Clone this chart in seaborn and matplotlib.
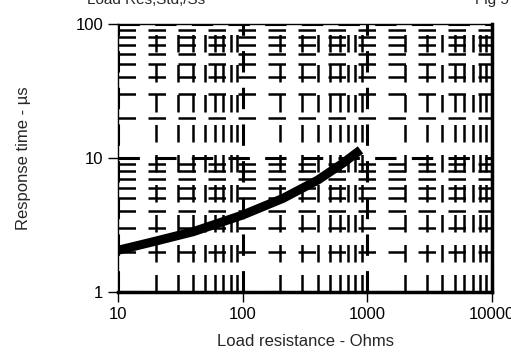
import matplotlib
matplotlib.use("Agg")
import matplotlib.pyplot as plt
import seaborn as sns
import pandas as pd
from matplotlib.ticker import LogLocator, NullFormatter, FixedLocator, FixedFormatter

# data
load_ohms = [10, 19, 40, 100, 210, 400, 640, 880]
response_us = [2.05, 2.37, 2.82, 3.76, 5.0, 6.85, 9.2, 11.5]
x_ticks = [10, 100, 1000, 10000]
x_tick_labels = ["10", "100", "1000", "10000"]
y_ticks = [1, 10, 100]
y_tick_labels = ["1", "10", "100"]

sns.set_style("ticks")
plt.rcParams["font.family"] = ["Liberation Sans", "DejaVu Sans"]

df = pd.DataFrame({"R": load_ohms, "t": response_us})

fig = plt.figure(figsize=(5.11, 3.54), dpi=100)
ax = fig.add_axes([0.231, 0.175, 0.732, 0.757])

ax.set_xscale("log")
ax.set_yscale("log")
ax.set_xlim(10, 10000)
ax.set_ylim(1, 100)

ax.xaxis.set_major_locator(FixedLocator(x_ticks))
ax.xaxis.set_major_formatter(FixedFormatter(x_tick_labels))
ax.yaxis.set_major_locator(FixedLocator(y_ticks))
ax.yaxis.set_major_formatter(FixedFormatter(y_tick_labels))
ax.xaxis.set_minor_locator(LogLocator(base=10, subs=range(2, 10)))
ax.yaxis.set_minor_locator(LogLocator(base=10, subs=range(2, 10)))
ax.xaxis.set_minor_formatter(NullFormatter())
ax.yaxis.set_minor_formatter(NullFormatter())

ax.grid(which="minor", color="black", linewidth=1.8, linestyle=(0, (7, 5)))
ax.grid(which="major", color="black", linewidth=2.2, linestyle=(0, (7, 5)))
ax.set_axisbelow(True)

sns.lineplot(data=df, x="R", y="t", ax=ax, color="black", linewidth=6.5,
             solid_capstyle="butt", solid_joinstyle="round", zorder=5)

ax.tick_params(which="major", direction="out", length=7, width=1, labelsize=12, colors="black")
ax.tick_params(which="minor", length=0)

for side in ["left", "top"]:
    ax.spines[side].set_linewidth(1.0)
for side in ["bottom", "right"]:
    ax.spines[side].set_linewidth(2.5)
for s in ax.spines.values():
    s.set_color("black")
    s.set_visible(True)

ax.set_xlabel("Load resistance - Ohms", fontsize=12, labelpad=9)
ax.set_ylabel("Response time - µs", fontsize=12, labelpad=32)

fig.text(0.17, 1.0, "Load Res,Std,/Ss", fontsize=11, va="center", ha="left")
fig.text(0.93, 1.0, "Fig 5", fontsize=11, va="center", ha="left")

fig.savefig("out.png", dpi=100)
